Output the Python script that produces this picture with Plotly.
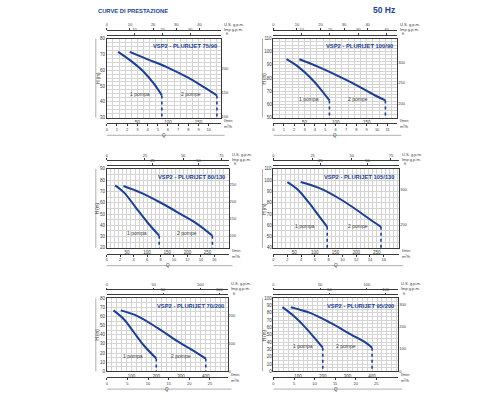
import plotly.graph_objects as go

FIG_W, FIG_H = 500, 400
BLUE = "#1d3f92"
INK = "#3a3a3a"
GRID = "#d4d4d4"
FONT = "Liberation Sans, Arial, sans-serif"

# dati: Q in l/min, H in m
TITLES = [
    "VSP2 - PLURIJET 75/90",
    "VSP2 - PLURIJET 100/90",
    "VSP2 - PLURIJET 80/130",
    "VSP2 - PLURIJET 105/130",
    "VSP2 - PLURIJET 70/200",
    "VSP2 - PLURIJET 95/200",
]

P1_Q1 = [18.5, 39, 61, 77, 90]
P1_H1 = [71.6, 66.0, 58.7, 51.4, 44.0]
P1_Q2 = [37.5, 66, 99, 131.5, 158.7, 180]
P1_H2 = [71.6, 67.0, 61.8, 55.5, 49.2, 44.0]

P2_Q1 = [21, 40, 60, 75, 90]
P2_H1 = [94.3, 88.5, 80.0, 72.0, 63.0]
P2_Q2 = [41.7, 70.6, 102.7, 134.8, 161.5, 180]
P2_H2 = [94.3, 88.8, 81.8, 74.3, 67.3, 63.0]

P3_Q1 = [20.7, 43, 72, 101, 130]
P3_H1 = [75.4, 69.0, 55.7, 42.5, 30.8]
P3_Q2 = [41.3, 84, 134, 183.5, 224.8, 262]
P3_H2 = [74.8, 69.0, 60.0, 49.9, 41.1, 30.8]

P4_Q1 = [33.7, 57.7, 85.7, 109.8, 130]
P4_H1 = [98.3, 91.9, 80.1, 68.4, 58.7]
P4_Q2 = [65.7, 113.8, 161.9, 210, 238, 260]
P4_H2 = [98.3, 92.5, 83.1, 71.4, 64.0, 58.7]

P5_Q1 = [27, 70, 110, 151, 200]
P5_H1 = [66.7, 56.8, 42.5, 28.0, 14.0]
P5_Q2 = [56.5, 124, 204.6, 285, 352.6, 400]
P5_H2 = [66.7, 60.5, 47.6, 33.0, 22.2, 14.0]

P6_Q1 = [36.5, 83.8, 131, 171.6, 200]
P6_H1 = [87.8, 75.2, 59.5, 43.7, 32.4]
P6_Q2 = [70, 151, 232, 313.5, 374, 400]
P6_H2 = [87.8, 79.7, 66.2, 50.5, 39.2, 32.4]

X_MAX = [186, 199, 302, 304, 488, 506]
Y_MIN = [30, 50, 20, 40, 0, 0]
Y_MAX = [80, 110, 90, 110, 80, 100]

LABEL_Q1 = [55, 57, 76, 76, 104, 118]
LABEL_Q2 = [137, 136, 200, 204, 299, 293]
LABEL_H = [45, 64, 33, 59, 17, 34]

LMIN_STEP = [50, 50, 50, 50, 100, 100]
M3H_STEP = [1, 1, 2, 2, 5, 5]
GPM_STEP = [10, 10, 25, 25, 50, 50]
FT_STEP = [50, 50, 50, 100, 100, 100]

CURVES = [
    (P1_Q1, P1_H1, P1_Q2, P1_H2),
    (P2_Q1, P2_H1, P2_Q2, P2_H2),
    (P3_Q1, P3_H1, P3_Q2, P3_H2),
    (P4_Q1, P4_H1, P4_Q2, P4_H2),
    (P5_Q1, P5_H1, P5_Q2, P5_H2),
    (P6_Q1, P6_H1, P6_Q2, P6_H2),
]

# riquadri in pixel: sinistra, destra, alto, basso
BOXES = [
    (106, 220, 37, 117),
    (273, 397, 37, 117),
    (106, 228, 169, 249),
    (273, 399, 169, 249),
    (106, 227, 300, 374),
    (273, 398, 300, 374),
]
GRID_X = [10, 10, 10, 10, 20, 20]
GRID_Y = [2.5, 2.5, 5, 5, 5, 5]


def px(x):
    return x / FIG_W


def py(y):
    return 1 - y / FIG_H


def name(prefix, k):
    return prefix if k == 1 else f"{prefix}{k}"


def key(prefix, k):
    return f"{prefix}axis" if k == 1 else f"{prefix}axis{k}"


def ticks_upto(step, top, start=0):
    # niente etichetta troppo vicina al bordo destro (c'è l'unità di misura)
    vals, v = [], start
    while v <= 0.95 * top:
        vals.append(v)
        v += step
    return vals


def note(text, x, y, size=4, xanchor="center", yanchor="middle", color=INK, bold=False, **kw):
    font = dict(size=size, color=color, family=FONT)
    if bold:
        font["weight"] = "bold"
    return dict(text=text, x=px(x), y=py(y), xref="paper", yref="paper",
                showarrow=False, xanchor=xanchor, yanchor=yanchor, font=font, **kw)


fig = go.Figure()
layout = {}
annotations = []
shapes = []

for i in range(6):
    l, r, t, b = BOXES[i]
    xmax, ymin, ymax = X_MAX[i], Y_MIN[i], Y_MAX[i]
    n = 4 * i + 1  # x: l/min, m3/h, US gpm, Imp gpm
    m = 2 * i + 1  # y: m, ft
    xa, ya = name("x", n), name("y", m)
    small = dict(size=4.5, color=INK, family=FONT)

    layout[key("x", n)] = dict(
        domain=[px(l), px(r)], anchor=ya, range=[0, xmax],
        tickvals=ticks_upto(LMIN_STEP[i], xmax, LMIN_STEP[i]),
        ticks="", tickfont=small, showline=True, linecolor=INK, linewidth=0.8,
        mirror=True, zeroline=False, showgrid=True, gridcolor=GRID, gridwidth=0.5,
        minor=dict(tickmode="linear", tick0=0, dtick=GRID_X[i], showgrid=True,
                   gridcolor=GRID, gridwidth=0.5),
    )
    layout[key("y", m)] = dict(
        domain=[py(b), py(t)], anchor=xa, range=[ymin, ymax],
        tickmode="linear", tick0=0, dtick=10, ticks="", tickfont=small,
        showline=True, linecolor=INK, linewidth=0.8, mirror=True, zeroline=False,
        showgrid=True, gridcolor=GRID, gridwidth=0.5,
        minor=dict(tickmode="linear", tick0=0, dtick=GRID_Y[i], showgrid=True,
                   gridcolor=GRID, gridwidth=0.5),
    )
    layout[key("y", m + 1)] = dict(
        overlaying=ya, side="right", anchor=xa,
        range=[ymin * 3.2808, ymax * 3.2808],
        tickvals=ticks_upto(FT_STEP[i], ymax * 3.2808),
        ticks="", showgrid=False, zeroline=False,
        tickfont=dict(size=4, color=INK, family=FONT),
    )
    axis_line = dict(showline=True, linecolor=INK, linewidth=0.6, ticks="outside",
                     ticklen=2, tickwidth=0.5, tickcolor=INK, showgrid=False,
                     zeroline=False, tickfont=dict(size=4, color=INK, family=FONT),
                     anchor="free", overlaying=xa)
    m3h_max, us_max, imp_max = xmax / 16.667, xmax / 3.7854, xmax / 4.546
    layout[key("x", n + 1)] = dict(axis_line, side="bottom", position=py(b + 6),
                                   range=[0, m3h_max],
                                   tickvals=ticks_upto(M3H_STEP[i], m3h_max))
    layout[key("x", n + 2)] = dict(axis_line, side="top", position=py(t - 9),
                                   range=[0, us_max],
                                   tickvals=ticks_upto(GPM_STEP[i], us_max))
    layout[key("x", n + 3)] = dict(axis_line, side="top", position=py(t - 4),
                                   range=[0, imp_max],
                                   tickvals=ticks_upto(GPM_STEP[i], imp_max, GPM_STEP[i]))

    # tracce invisibili per far disegnare gli assi secondari
    for k in (n + 1, n + 2, n + 3):
        fig.add_trace(go.Scatter(x=[0], y=[ymin], xaxis=name("x", k), yaxis=ya,
                                 mode="markers", marker=dict(opacity=0),
                                 hoverinfo="skip", showlegend=False))
    fig.add_trace(go.Scatter(x=[0], y=[ymin * 3.2808], xaxis=xa, yaxis=name("y", m + 1),
                             mode="markers", marker=dict(opacity=0),
                             hoverinfo="skip", showlegend=False))

    q1, h1, q2, h2 = CURVES[i]
    for q, h in ((q1, h1), (q2, h2)):
        fig.add_trace(go.Scatter(x=q, y=h, xaxis=xa, yaxis=ya, mode="lines",
                                 line=dict(color=BLUE, width=2, shape="spline"),
                                 hoverinfo="skip", showlegend=False))
        fig.add_trace(go.Scatter(x=[q[-1], q[-1]], y=[h[-1], ymin], xaxis=xa, yaxis=ya,
                                 mode="lines", line=dict(color=BLUE, width=1.6, dash="dot"),
                                 hoverinfo="skip", showlegend=False))

    annotations.append(dict(text=TITLES[i], x=0.985, y=0.965, xref=f"{xa} domain",
                            yref=f"{ya} domain", xanchor="right", yanchor="top",
                            showarrow=False,
                            font=dict(size=5.8, color=BLUE, family=FONT, weight="bold")))
    for qx, txt in ((LABEL_Q1[i], "1 pompa"), (LABEL_Q2[i], "2 pompe")):
        annotations.append(dict(text=txt, x=qx, y=LABEL_H[i], xref=xa, yref=ya,
                                showarrow=False, font=dict(size=5, color=INK, family=FONT)))

    annotations += [
        note("l/min", r + 1, b + 3, xanchor="left"),
        note("m³/h", r + 1, b + 9, xanchor="left"),
        note("U.S. g.p.m.", r + 1, t - 10, xanchor="left", yanchor="bottom"),
        note("Imp g.p.m.", r + 1, t - 5, xanchor="left", yanchor="bottom"),
        note("ft", r + 3, t - 0.5, xanchor="left", yanchor="bottom"),
        note("Q", (l + r) / 2, b + 13.5, size=4.5, yanchor="top"),
        note("H (m)", l - 9, (t + b) / 2, size=4.5, textangle=-90),
    ]
    shapes += [
        dict(type="line", xref="paper", yref="paper", x0=px(l - 11), x1=px(l - 11),
             y0=py(t), y1=py(b), line=dict(color="#9a9a9a", width=0.8)),
        dict(type="line", xref="paper", yref="paper", x0=px(l), x1=px(r + 4),
             y0=py(b + 18), y1=py(b + 18), line=dict(color="#9a9a9a", width=0.8)),
    ]

annotations += [
    note("CURVE DI PRESTAZIONE", 95, 9, size=5.8, xanchor="left", color=BLUE, bold=True),
    note("50 Hz", 397, 8, size=8.5, xanchor="right", color=BLUE, bold=True),
]

fig.update_layout(
    width=FIG_W, height=FIG_H, autosize=False,
    margin=dict(l=0, r=0, t=0, b=0),
    paper_bgcolor="white", plot_bgcolor="white",
    showlegend=False, annotations=annotations, shapes=shapes,
    font=dict(family=FONT, color=INK),
    **layout,
)

# il margine di default del body sposterebbe tutto di 8 px
fig.write_html("out.html", config={"displayModeBar": False},
               post_script="document.body.style.margin='0';")
